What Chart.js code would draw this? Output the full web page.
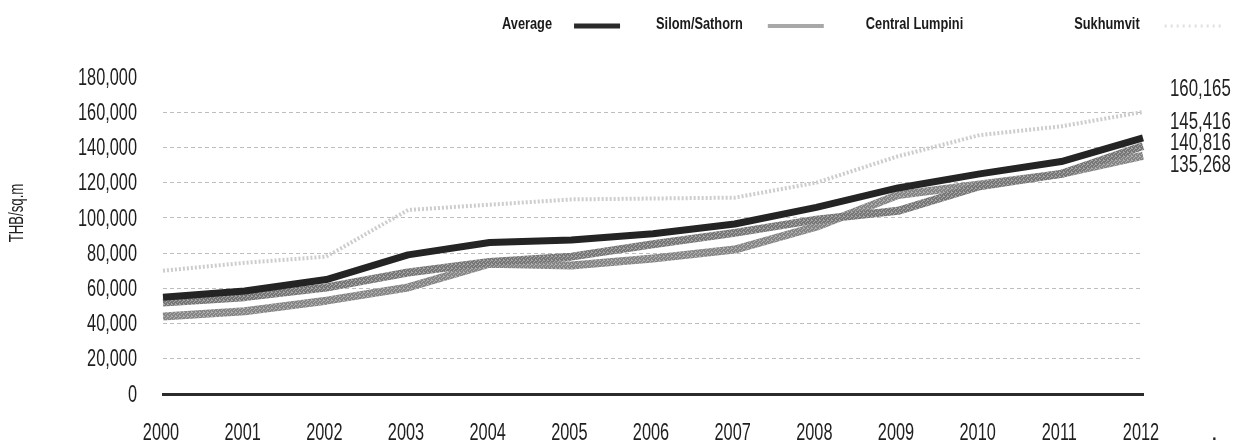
<!DOCTYPE html>
<html>
<head>
<meta charset="utf-8">
<script src="https://cdn.jsdelivr.net/npm/chart.js@4.4.1/dist/chart.umd.min.js"></script>
<style>
  html, body { margin: 0; padding: 0; background: #ffffff; }
  #wrap { width: 1251px; height: 445px; position: relative; }
</style>
</head>
<body>
<div id="wrap"><canvas id="c" width="1251" height="445"></canvas></div>
<script>
// ---- data ----
const years = ['2000','2001','2002','2003','2004','2005','2006','2007','2008','2009','2010','2011','2012'];
const average       = [55000, 58500, 65000, 79000, 86000, 87500, 91000, 96500, 106000, 117000, 125000, 132000, 145416];
const silomSathorn  = [52000, 55000, 60500, 69000, 75000, 78000, 85000, 91500, 99000, 104000, 118000, 125000, 140816];
const centralLumpini= [44000, 47000, 53000, 60500, 74000, 73000, 77000, 82000, 95000, 113000, 119000, 125000, 135268];
const sukhumvit     = [70000, 74500, 78000, 104500, 107500, 110500, 111000, 111500, 120000, 135000, 147000, 152000, 160165];
const seriesNames   = ['Average', 'Silom/Sathorn', 'Central Lumpini', 'Sukhumvit'];
const yTicks        = [0, 20000, 40000, 60000, 80000, 100000, 120000, 140000, 160000, 180000];
const yTitle        = 'THB/sq.m';

const FONT = "'Liberation Sans', Arial, sans-serif";
const fmt = v => v.toLocaleString('en-US');

// deterministic grainy texture for the grey lines
function grain(base, light) {
  const c = document.createElement('canvas');
  c.width = 4; c.height = 4;
  const g = c.getContext('2d');
  g.fillStyle = base; g.fillRect(0, 0, 4, 4);
  g.fillStyle = light;
  [[0,0],[2,1],[1,2],[3,3],[3,0]].forEach(p => g.fillRect(p[0], p[1], 1, 1));
  return g.createPattern(c, 'repeat');
}

const styles = [
  { color: '#242424', width: 7, dash: [],     legendColor: '#2a2a2a', legendWidth: 5, legendDash: [] },
  { color: grain('#767676', '#a6a6a6'), width: 8, dash: [], legendColor: '#a8a8a8', legendWidth: 4, legendDash: [] },
  { color: grain('#858585', '#b0b0b0'), width: 8, dash: [], legendColor: 'rgba(0,0,0,0)', legendWidth: 4, legendDash: [] },
  { color: '#cdcdcd', width: 4, dash: [2, 2], legendColor: '#e0e0e0', legendWidth: 3, legendDash: [2, 4] }
];
const seriesData = [average, silomSathorn, centralLumpini, sukhumvit];

const datasets = seriesData.map((d, i) => ({
  label: seriesNames[i],
  data: d,
  borderColor: styles[i].color,
  backgroundColor: '#888',
  borderWidth: styles[i].width,
  borderDash: styles[i].dash,
  borderCapStyle: 'butt',
  borderJoinStyle: 'round',
  pointRadius: 0,
  tension: 0,
  fill: false,
  order: i
}));

function narrowText(ctx, text, x, y, align, sx, rot) {
  ctx.save();
  ctx.translate(x, y);
  if (rot) ctx.rotate(rot);
  ctx.scale(sx, 1);
  ctx.textAlign = align;
  ctx.fillText(text, 0, 0);
  ctx.restore();
}

// axis labels drawn narrow (condensed face)
const axisTextPlugin = {
  id: 'narrowAxisText',
  afterDraw(chart) {
    const ctx = chart.ctx;
    const xs = chart.scales.x, ys = chart.scales.y;
    ctx.save();
    ctx.fillStyle = '#1e1e1e';
    ctx.textBaseline = 'middle';
    ctx.font = '24px ' + FONT;
    yTicks.forEach(v => narrowText(ctx, fmt(v), 137, ys.getPixelForValue(v) + 1, 'right', 0.68));
    years.forEach((yr, i) => narrowText(ctx, yr, xs.getPixelForValue(i) - 2, 433, 'center', 0.68));
    ctx.font = '20px ' + FONT;
    narrowText(ctx, yTitle, 17, 213, 'center', 0.66, -Math.PI / 2);
    ctx.restore();
  }
};

// custom legend: text then swatch to its right
const legendPlugin = {
  id: 'textFirstLegend',
  afterDraw(chart) {
    const ctx = chart.ctx;
    ctx.save();
    ctx.font = 'bold 16px ' + FONT;
    ctx.textBaseline = 'middle';
    ctx.fillStyle = '#1a1a1a';
    const sx = 0.8;
    let x = 502;
    const y = 25;
    const swatchW = [46, 56, 56, 58];
    const gapText = [22, 25, 25, 25];
    const gapItem = [36, 42, 30, 0];
    seriesNames.forEach((name, i) => {
      narrowText(ctx, name, x, y, 'left', sx);
      x += ctx.measureText(name).width * sx + gapText[i];
      ctx.beginPath();
      ctx.strokeStyle = styles[i].legendColor;
      ctx.lineWidth = styles[i].legendWidth;
      ctx.setLineDash(styles[i].legendDash);
      ctx.moveTo(x, y + 1);
      ctx.lineTo(x + swatchW[i], y + 1);
      ctx.stroke();
      ctx.setLineDash([]);
      x += swatchW[i] + gapItem[i];
    });
    ctx.restore();
  }
};

// end-value labels at the right
const endLabelPlugin = {
  id: 'endLabels',
  afterDatasetsDraw(chart) {
    const ctx = chart.ctx;
    const ys = chart.scales.y;
    const lasts = seriesData.map(d => d[d.length - 1]).sort((a, b) => b - a);
    const gaps = [0, 33, 21, 22];
    ctx.save();
    ctx.font = '24px ' + FONT;
    ctx.fillStyle = '#222';
    ctx.textBaseline = 'middle';
    let y = ys.getPixelForValue(lasts[0]) - 23;
    lasts.forEach((v, i) => {
      y += gaps[i];
      narrowText(ctx, fmt(v), chart.chartArea.right + 27, y, 'left', 0.70);
    });
    narrowText(ctx, '.', chart.chartArea.right + 68, 433, 'left', 1);
    ctx.restore();
  }
};

new Chart(document.getElementById('c'), {
  type: 'line',
  data: { labels: years, datasets },
  options: {
    responsive: false,
    animation: false,
    devicePixelRatio: 1,
    layout: { padding: { left: 0, right: 108, top: 77, bottom: 0 } },
    plugins: {
      legend: { display: false },
      tooltip: { enabled: false }
    },
    scales: {
      x: {
        offset: false,
        grid: { display: false, drawTicks: false },
        border: { display: true, color: '#2b2b2b', width: 3 },
        ticks: { display: false, autoSkip: false, maxRotation: 0 },
        afterFit(s) { s.height = 51; }
      },
      y: {
        min: 0,
        max: 180000,
        afterBuildTicks(s) { s.ticks = yTicks.map(v => ({ value: v })); },
        grid: {
          drawTicks: false,
          color: ctx => (ctx.tick && (ctx.tick.value === 0 || ctx.tick.value === 180000)) ? 'rgba(0,0,0,0)' : '#bdbdbd',
          lineWidth: 1
        },
        border: { display: false, dash: [4, 3] },
        ticks: { display: false },
        title: { display: false },
        afterFit(s) { s.width = 163; }
      }
    }
  },
  plugins: [axisTextPlugin, legendPlugin, endLabelPlugin]
});
</script>
</body>
</html>
